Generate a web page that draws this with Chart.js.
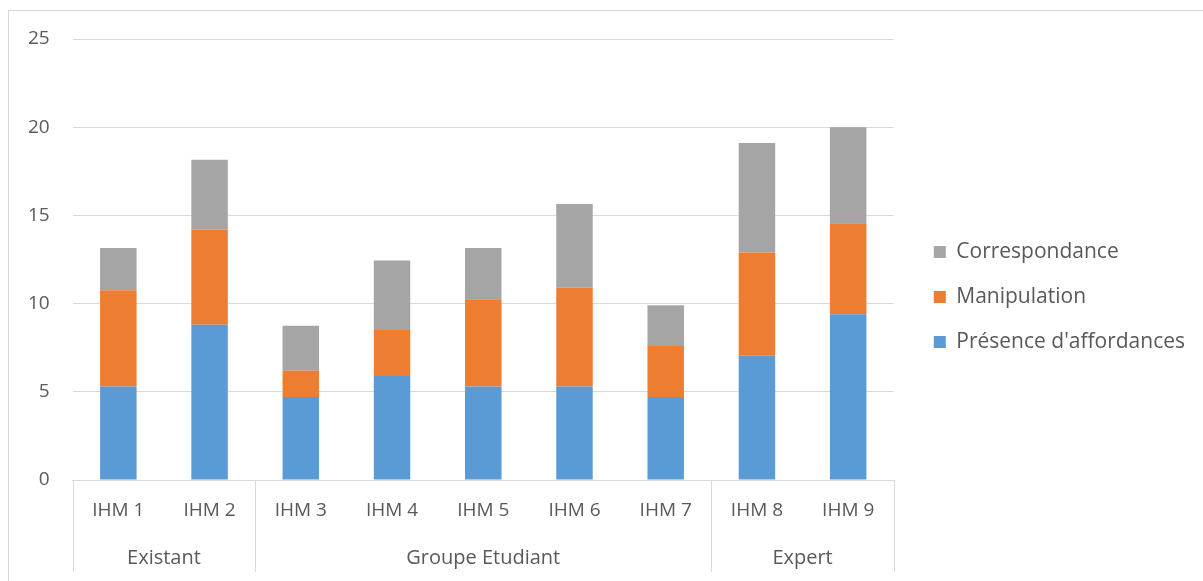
<!DOCTYPE html>
<html>
<head>
<meta charset="utf-8">
<script src="https://cdn.jsdelivr.net/npm/chart.js@4"></script>
<style>
  html, body { margin: 0; padding: 0; background: #fff; }
  #wrap { position: relative; width: 1203px; height: 581px; }
</style>
</head>
<body>
<div id="wrap"><canvas id="affordChart"></canvas></div>
<script>
const labels = ['IHM 1', 'IHM 2', 'IHM 3', 'IHM 4', 'IHM 5', 'IHM 6', 'IHM 7', 'IHM 8', 'IHM 9'];
const groups = ['Existant', 'Groupe Etudiant', 'Expert'];
const groupSizes = [2, 5, 2];

const presence = [5.3, 8.8, 4.7, 5.9, 5.3, 5.3, 4.7, 7.05, 9.4];
const manipulation = [5.45, 5.4, 1.5, 2.6, 4.95, 5.6, 2.9, 5.85, 5.15];
const correspondance = [2.4, 3.95, 2.55, 3.95, 2.9, 4.75, 2.3, 6.2, 5.45];

const textColor = '#595959';
const lineColor = '#d9d9d9';
const fontFamily = '"Open Sans", sans-serif';

// draws the outer frame, the group row of the x axis and its separators
const groupAxis = {
    id: 'groupAxis',
    afterLayout(chart) {
        // leave a gap between the plot and the legend
        chart.legend.left += 16;
        chart.legend.right += 16;
    },
    beforeDraw(chart) {
        const ctx = chart.ctx;
        ctx.save();
        ctx.strokeStyle = lineColor;
        ctx.lineWidth = 1;
        ctx.strokeRect(8.5, 10.5, 1300, 700);
        ctx.restore();
    },
    afterDraw(chart) {
        const ctx = chart.ctx;
        const x = chart.scales.x;
        const area = chart.chartArea;
        const bottom = 572;
        ctx.save();
        ctx.strokeStyle = lineColor;
        ctx.lineWidth = 1;
        ctx.fillStyle = textColor;
        ctx.font = '20px ' + fontFamily;
        ctx.textAlign = 'center';
        ctx.textBaseline = 'middle';

        let start = 0;
        let left = area.left;
        groupSizes.forEach((n, g) => {
            const end = start + n;
            let right;
            if (end >= labels.length) {
                right = area.right;
            } else {
                right = (x.getPixelForValue(end - 1) + x.getPixelForValue(end)) / 2;
            }
            ctx.beginPath();
            ctx.moveTo(Math.round(left) + 0.5, area.bottom);
            ctx.lineTo(Math.round(left) + 0.5, bottom);
            ctx.stroke();
            ctx.fillText(groups[g], (left + right) / 2, 558);
            left = right;
            start = end;
        });
        ctx.beginPath();
        ctx.moveTo(Math.round(area.right) + 0.5, area.bottom);
        ctx.lineTo(Math.round(area.right) + 0.5, bottom);
        ctx.stroke();
        ctx.restore();
    }
};

const data = {
    labels: labels,
    datasets: [
        { label: "Présence d'affordances", data: presence, backgroundColor: '#5b9bd5' },
        { label: 'Manipulation', data: manipulation, backgroundColor: '#ed7d31' },
        { label: 'Correspondance', data: correspondance, backgroundColor: '#a5a5a5' }
    ]
};

const config = {
    type: 'bar',
    data: data,
    plugins: [groupAxis],
    options: {
        animation: false,
        responsive: false,
        maintainAspectRatio: false,
        datasets: {
            bar: { barPercentage: 0.4, categoryPercentage: 1.0, borderWidth: 0 }
        },
        layout: {
            padding: { top: 39, left: 5, right: 24, bottom: 26 }
        },
        plugins: {
            tooltip: { enabled: false },
            legend: {
                position: 'right',
                reverse: true,
                labels: {
                    boxWidth: 12,
                    boxHeight: 12,
                    padding: 24,
                    color: textColor,
                    font: { family: fontFamily, size: 21 }
                }
            }
        },
        scales: {
            x: {
                stacked: true,
                grid: { display: false, drawTicks: false },
                border: { display: true, color: lineColor },
                ticks: {
                    padding: 19,
                    color: textColor,
                    font: { family: fontFamily, size: 19 }
                },
                afterFit: function(scale) { scale.height = 75; }
            },
            y: {
                stacked: true,
                min: 0,
                max: 25,
                grid: { color: lineColor, drawTicks: false },
                border: { display: false },
                ticks: {
                    stepSize: 5,
                    padding: 23,
                    color: textColor,
                    font: { family: fontFamily, size: 19 }
                }
            }
        }
    }
};

const canvas = document.getElementById('affordChart');
canvas.width = 1203;
canvas.height = 581;
const myChart = new Chart(canvas.getContext('2d'), config);
</script>
</body>
</html>
